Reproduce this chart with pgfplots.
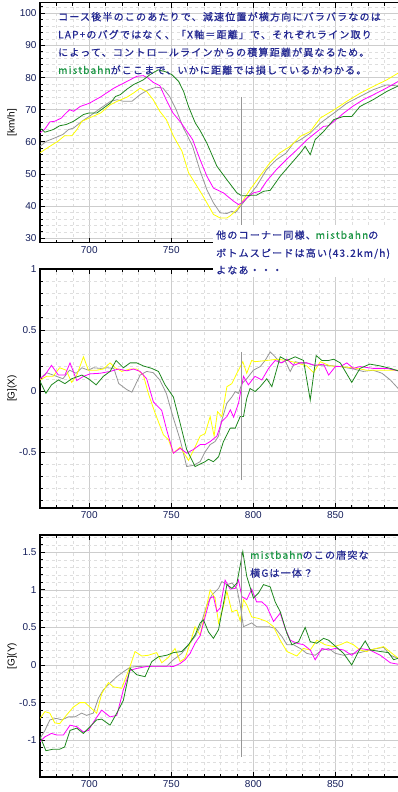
\documentclass[border=0pt]{standalone}
\usepackage{pgfplots}
\pgfplotsset{compat=1.18}
\usepackage{fontspec}
\setmainfont{Liberation Sans}
\newfontfamily\jp[LetterSpace=12, FakeBold=0.8]{Noto Sans CJK JP}
\definecolor{navy}{RGB}{35,40,145}
\definecolor{mbgreen}{RGB}{30,150,70}
\definecolor{ticknavy}{RGB}{20,30,90}
\definecolor{sgray}{RGB}{150,150,150}
\definecolor{sgreen}{RGB}{30,135,30}
\definecolor{syellow}{RGB}{255,255,0}
\definecolor{smag}{RGB}{255,0,255}
\definecolor{gridmaj}{RGB}{205,205,205}
\definecolor{gridmin}{RGB}{222,222,222}
\newcommand\mbg[1]{\textcolor{mbgreen}{#1}}
\newcommand\jpfont{\jp\fontsize{10bp}{12bp}\selectfont}
\newcommand\txtnode[2]{%
  \node[anchor=base west, inner sep=0, text=navy, font=\jpfont] at (#1) {#2};
}
\pgfplotsset{
  panel/.style={
    scale only axis, width=361bp,
    xmin=670, xmax=890,
    xtick={700,750,800,850}, xticklabels={700,750,800,850},
    minor xtick={680,690,710,720,730,740,760,770,780,790,810,820,830,840,860,870,880},
    grid=both,
    major grid style={gridmaj, line width=0.6bp},
    minor grid style={gridmin, dashed, line width=0.5bp},
    axis line style={black, line width=1.1bp},
    ytick pos=left,
    major tick length=5bp, minor tick length=3bp,
    tick style={black, line width=0.8bp},
    ticklabel style={font=\fontsize{10bp}{12bp}\selectfont, text=ticknavy},
    every axis y label/.style={at={([xshift=-28bp]axis description cs:0,0.5)}, rotate=90, anchor=center, font=\fontsize{10bp}{12bp}\selectfont},
  },
  ser/.style={line width=0.8bp, #1},
}
\begin{document}
\begin{tikzpicture}
\useasboundingbox (0,0) rectangle (398bp,-792bp);
% ---------------- top panel ----------------
\begin{axis}[panel, at={(40bp,-2.7bp)}, anchor=north west, height=240bp,
  xticklabels={700,750,{},{}},
  ymin=28.6, ymax=103.3,
  ytick={30,40,50,60,70,80,90,100}, yticklabels={30,40,50,60,70,80,90,100},
  minor ytick={32,34,36,38,42,44,46,48,52,54,56,58,62,64,66,68,72,74,76,78,82,84,86,88,92,94,96,98,102},
  ylabel={[km/h]}]
\addplot[ser=sgray] coordinates {(670,58.6)(674,60.2)(679,61.2)(684,62.3)(687.3,63.8)(690.5,64.3)(695.5,66.4)(700,67.9)(707,70.5)(713,72.6)(717,73.1)(721,72.6)(726,72.6)(731,74.7)(736,76.2)(741,77)(745,76.7)(749,74.1)(753,70)(757,64.8)(763,58.6)(767.6,50.9)(771.7,45.1)(775.7,41)(779.8,37.9)(783.9,37.7)(787,38.4)(789,37.9)(793,40.5)(797,43)(802,46.2)(808,51.3)(814,54.4)(820,56.5)(824.5,59.6)(828.6,60.6)(834.7,62.7)(840.8,65.8)(849,68.9)(857,72)(865,74.1)(873,76.2)(881,77.7)(888.3,77.4)};
\addplot[ser=syellow] coordinates {(670,56.6)(676,58.6)(681,60.2)(685,61.9)(689.4,61.9)(692.5,63.8)(695.5,66.4)(700,67.4)(707,69)(713,71.6)(717,72.6)(723,73.9)(727,75.2)(731,76.7)(735,75.7)(739,73.1)(743,69.5)(747,66.9)(751.4,61.7)(756.5,57.1)(760.5,50.4)(767.6,44.6)(770.6,42)(775.7,37.4)(779.8,36.3)(783.9,36.3)(786,37)(790,38.9)(794,42)(798,45.1)(804,49.3)(810,53.4)(816,56.5)(822.5,58.6)(828.6,61.7)(834.7,63.2)(840.8,67.4)(849,69.9)(857,72.6)(865,75.1)(873,77.2)(881.4,79.3)(888.3,81.4)};
\addplot[ser=smag] coordinates {(670,62.8)(673,64)(676,66.2)(679,66.4)(683,67.4)(685,68.5)(688,70)(690.5,69.5)(694.5,71)(700,72)(707,74)(715,76.7)(723,78.8)(729,80.4)(733,80.6)(736,79.8)(739,78.5)(743,77.5)(747,73)(751,69)(756,65.9)(763,60.7)(767.6,54.4)(771.7,49.3)(775.7,45.6)(781.8,44.1)(788,41.5)(791,40.5)(793,41)(796,42.5)(800,44.1)(804,44.6)(808,47.7)(814,51.3)(820,54.4)(826.5,57.5)(832.6,60.6)(837.7,62.7)(842.8,64.8)(845.9,65)(849,66.3)(855,68.9)(861,71.2)(867,73.1)(873,74.6)(881,76.7)(888.3,78.8)};
\addplot[ser=sgreen] coordinates {(670,64.3)(673,63)(678,63.8)(682,65)(686,65.4)(690.5,66.4)(696.5,68.5)(700,69)(704.7,69)(708.7,70.5)(713,72.1)(716,74.1)(719,74.7)(723,76.4)(727,77.8)(733,79.3)(737,80.9)(742,82.4)(746,81.9)(750.4,80.9)(754.5,78.8)(757.5,75.7)(760.5,71)(764.6,65.9)(767.6,63.5)(771.7,59.6)(777.8,52.4)(783.9,48.2)(790,44.1)(793,43.2)(796,43.2)(799,43.4)(802,43.4)(806.2,44.6)(810.3,44.9)(816.4,49.3)(822.5,52.9)(828.6,56.5)(831.6,58.6)(834.7,56)(837.7,60.7)(842.8,63.2)(849,66.9)(855,67.9)(860,67.9)(865,71)(873,73.1)(881.4,75.7)(888.3,77.4)};
\addplot[sgray, line width=0.7bp] coordinates {(793,74)(793,28.6)};
\end{axis}
% ---------------- middle panel ----------------
\begin{axis}[panel, at={(40bp,-269bp)}, anchor=north west, height=239bp,
  ymin=-0.96, ymax=1.0,
  ytick={-0.5,0,0.5,1}, yticklabels={-0.5,0,0.5,1},
  minor ytick={-0.9,-0.8,-0.7,-0.6,-0.4,-0.3,-0.2,-0.1,0.1,0.2,0.3,0.4,0.6,0.7,0.8,0.9},
  ylabel={[G](X)}]
\addplot[ser=sgray] coordinates {(670,0.10)(674,0.15)(678,0.13)(684,0.10)(688,0.17)(692,0.145)(695.5,0.19)(699.5,0.17)(702.5,0.19)(707,0.185)(711,0.19)(715,0.185)(718,0.06)(723,0.01)(726,-0.01)(731,0.13)(735,0.16)(739,0.15)(743,0.09)(747,-0.02)(751,-0.21)(755.4,-0.40)(759.4,-0.62)(763.5,-0.61)(767.6,-0.58)(770.6,-0.50)(773.7,-0.44)(776.7,-0.415)(778.8,-0.37)(780.8,-0.24)(783.9,-0.10)(786.9,-0.05)(789,-0.005)(791,-0.02)(793,0.06)(796,0.10)(800,0.17)(804.2,0.20)(807.2,0.25)(810.3,0.32)(813.3,0.28)(816.4,0.23)(819.4,0.245)(822.5,0.16)(825.5,0.24)(828.6,0.23)(832.6,0.23)(836.7,0.21)(844.8,0.21)(853,0.20)(861,0.18)(867,0.16)(873,0.17)(878.4,0.145)(883.5,0.09)(888.3,0.02)};
\addplot[ser=syellow] coordinates {(670,0.09)(674,0.12)(678,0.12)(682,0.19)(686,0.17)(689.3,0.07)(692.4,0.13)(696.5,0.28)(699.5,0.17)(704.6,0.17)(708.6,0.18)(712.7,0.23)(715.8,0.19)(719.8,0.16)(724.9,0.18)(729,0.18)(733,0.13)(736,-0.02)(740.1,-0.18)(745.2,-0.36)(748.3,-0.40)(751.3,-0.51)(755.4,-0.46)(760.5,-0.57)(764.5,-0.46)(767.6,-0.37)(770.6,-0.35)(773.7,-0.21)(776.1,-0.37)(778.2,-0.17)(780.8,-0.21)(783.9,0.035)(786.9,0.06)(790,0.145)(793.6,0.24)(796,0.145)(799,0.25)(801.1,0.24)(808.2,0.25)(814.4,0.26)(820.5,0.25)(826.5,0.23)(832.6,0.205)(836.7,0.15)(840.8,0.24)(846.9,0.205)(853,0.20)(861,0.19)(869,0.17)(877.4,0.17)(888.3,0.17)};
\addplot[ser=smag] coordinates {(670,0.10)(673,0.13)(677,0.21)(681.2,0.13)(685.2,0.13)(688.3,0.23)(692.4,0.085)(696.5,0.12)(700.5,0.14)(706.6,0.145)(712.7,0.16)(717.8,0.18)(722.9,0.165)(727,0.18)(731,0.16)(735,0.10)(739.1,-0.09)(744.2,-0.16)(747.2,-0.32)(751.3,-0.51)(755.4,-0.47)(759.4,-0.51)(763.5,-0.48)(767.6,-0.44)(770.6,-0.44)(773.7,-0.415)(777.8,-0.37)(780.8,-0.25)(783.9,-0.21)(786,-0.155)(788,-0.215)(791,-0.10)(794,0.12)(797,0.05)(801,0.12)(805.2,0.09)(809.3,0.185)(813.3,0.25)(817.4,0.23)(820.5,0.26)(824.5,0.21)(828.6,0.23)(832.6,0.23)(837.7,0.21)(842.8,0.22)(845.9,0.13)(850,0.20)(853,0.20)(857,0.23)(861,0.185)(865,0.20)(873,0.185)(881.4,0.185)(888.3,0.165)};
\addplot[ser=sgreen] coordinates {(670,0.08)(673.6,-0.02)(677,0.05)(681.2,0.09)(685.2,0.06)(689.3,0.10)(695.5,0.13)(699.5,0.10)(704.2,0.05)(708.6,0.12)(712.7,0.16)(716.4,0.25)(720.8,0.19)(724.9,0.23)(729,0.23)(733,0.205)(738.1,0.185)(742.2,0.16)(746.2,0.05)(751.3,-0.05)(755.4,-0.265)(759.4,-0.48)(764.5,-0.62)(767.6,-0.60)(770.6,-0.58)(772.7,-0.56)(775.7,-0.58)(778.8,-0.54)(781.8,-0.415)(785.9,-0.305)(789,-0.305)(792,-0.21)(794,-0.21)(796,-0.06)(798,0.02)(801.1,-0.005)(804.2,0.035)(808.2,0.10)(811.3,0.035)(816.4,0.28)(820.5,0.25)(825.5,0.28)(830.6,0.25)(834.7,-0.075)(838.3,0.29)(841.8,0.25)(845.9,0.25)(849,0.26)(853,0.23)(860,0.07)(865,0.185)(871,0.22)(877.4,0.205)(883.5,0.185)(888.3,0.165)};
\addplot[sgray, line width=0.7bp] coordinates {(793,0.32)(793,-0.73)};
\end{axis}
% ---------------- bottom panel ----------------
\begin{axis}[panel, at={(40bp,-535bp)}, anchor=north west, height=242bp,
  ymin=-1.49, ymax=1.73,
  ytick={-1,-0.5,0,0.5,1,1.5}, yticklabels={-1,-0.5,0,0.5,1,1.5},
  minor ytick={-1.4,-1.3,-1.2,-1.1,-0.9,-0.8,-0.7,-0.6,-0.4,-0.3,-0.2,-0.1,0.1,0.2,0.3,0.4,0.6,0.7,0.8,0.9,1.1,1.2,1.3,1.4,1.6,1.7},
  ylabel={[G](Y)}]
\addplot[ser=sgray] coordinates {(670,-0.98)(673,-0.87)(676,-0.73)(680,-0.71)(683.3,-0.73)(687.3,-0.69)(691.3,-0.69)(695.4,-0.64)(698.4,-0.67)(702.5,-0.64)(705.6,-0.44)(708.6,-0.33)(712.7,-0.24)(716.8,-0.155)(720.8,-0.09)(724.9,-0.03)(729,-0.02)(735,-0.015)(741.1,-0.015)(747.2,-0.015)(751.3,0.07)(756.4,0.155)(760.5,0.27)(764.5,0.38)(767.6,0.51)(771.7,0.80)(774.7,0.93)(778.8,1.02)(780.8,1.11)(783.9,1.07)(787,1.09)(790,1.02)(792,0.80)(794,0.51)(796,0.53)(799,0.56)(802,0.51)(806.2,0.51)(809.3,0.51)(813.3,0.49)(817.4,0.38)(820.5,0.27)(824.5,0.27)(828.6,0.22)(832.6,0.155)(837.7,0.13)(841.8,0.20)(845.9,0.22)(850,0.155)(855,0.13)(861,0.155)(865,0.165)(871,0.20)(875.3,0.22)(879.4,0.235)(883.5,0.13)(888.3,0.09)};
\addplot[ser=syellow] coordinates {(670,-0.71)(673,-0.62)(676,-0.64)(679,-0.77)(682,-0.78)(686,-0.67)(690.3,-0.56)(694.3,-0.50)(697.4,-0.50)(701.5,-0.58)(704.5,-0.64)(707.6,-0.38)(711.7,-0.235)(714.7,-0.29)(719.8,-0.31)(724.9,-0.02)(727.9,0.18)(732,0.12)(736,0.13)(741.1,0.165)(744.2,0.03)(748.2,0.10)(752.3,0.22)(755.4,0.045)(758.4,0.09)(761.5,0.29)(764.5,0.51)(767.6,0.40)(770.6,0.69)(773.7,1.0)(776.7,0.89)(778.8,0.56)(781.8,0.78)(783.9,0.98)(786.9,0.71)(790,0.73)(792,0.59)(794,0.87)(796,0.80)(799,0.64)(803.2,0.62)(808.2,0.58)(812.3,0.51)(816.4,0.33)(820.5,0.18)(826.5,0.12)(830.6,0.22)(834.7,0.20)(838.7,0.33)(843.8,0.27)(849,0.245)(853,0.27)(857,0.31)(861,0.27)(865,0.20)(869,0.18)(873,0.21)(879.4,0.245)(884.5,0.155)(888.3,0.09)};
\addplot[ser=smag] coordinates {(670,-1.02)(673,-0.955)(677,-0.91)(680,-0.93)(684.3,-0.93)(688.3,-0.80)(692.4,-0.82)(696.4,-0.89)(699.5,-0.87)(703.5,-0.73)(707.6,-0.60)(712.7,-0.69)(716.8,-0.67)(720.8,-0.33)(724.9,-0.07)(729,-0.045)(735,-0.02)(741.1,-0.015)(747.2,-0.015)(751.3,-0.02)(755.4,0.02)(758.4,0.07)(761.5,0.155)(764.5,0.29)(767.6,0.39)(770.6,0.64)(773.7,0.89)(775.7,0.91)(777.8,0.71)(779.8,0.76)(782.8,1.13)(785.9,1.01)(789,1.02)(791,1.13)(793,0.91)(796,0.87)(799,1.01)(802,0.84)(805.2,0.84)(808.2,0.78)(812.3,0.58)(816.4,0.69)(819.4,0.49)(822.5,0.33)(826.5,0.29)(830.6,0.27)(834.7,0.20)(837.7,0.07)(841.8,0.22)(845.9,0.20)(850,0.22)(855,0.20)(860,0.13)(865,0.22)(871,0.20)(877.4,0.13)(883.5,0.03)(888.3,0.01)};
\addplot[ser=sgreen] coordinates {(670,-0.95)(673.6,-1.14)(678,-1.12)(682,-1.12)(685,-1.09)(688.3,-0.87)(692.4,-0.84)(696.4,-0.91)(700.5,-0.82)(704.5,-0.73)(707.6,-0.72)(712.7,-0.80)(716.8,-0.64)(720.8,-0.47)(724.9,-0.045)(729,-0.13)(734,-0.155)(738.1,0.045)(742.2,0.11)(747.2,0.13)(751.3,0.165)(756.4,0.18)(760.5,0.27)(764.5,0.40)(767.6,0.56)(769.6,0.60)(772.7,0.44)(775.7,0.355)(778.8,0.47)(781.8,0.82)(783.9,1.07)(787,1.02)(790,1.09)(793.6,1.51)(796,1.18)(800.1,0.89)(803.2,0.96)(806.2,1.07)(810.3,1.04)(813.3,0.84)(816.4,0.71)(820.5,0.42)(823.5,0.27)(827.6,0.31)(831.6,0.50)(834.7,0.31)(838.7,0.29)(842.8,0.355)(845.9,0.33)(849,0.27)(855,0.155)(860,0.0)(864.1,0.18)(868.2,0.32)(871.3,0.20)(877.4,0.18)(882.4,0.165)(885.5,0.07)(888.3,0.09)};
\addplot[sgray, line width=0.7bp] coordinates {(793,1.51)(793,-1.22)};
\end{axis}
% ---------------- annotations ----------------
\txtnode{58bp,-20.5bp}{コース後半のこのあたりで、減速位置が横方向にバラバラなのは}
\txtnode{58bp,-38.3bp}{LAP+のバグではなく、「X軸＝距離」で、それぞれライン取り}
\txtnode{58bp,-56.1bp}{によって、コントロールラインからの積算距離が異なるため。}
\txtnode{58bp,-73.9bp}{\mbg{mistbahn}がここまで、いかに距離では損しているかわかる。}
\fill[white] (213bp,-225bp) rectangle (400bp,-277bp);
\txtnode{216bp,-238.8bp}{他のコーナー同様、\mbg{mistbahn}の}
\txtnode{216bp,-256.8bp}{ボトムスピードは高い(43.2km/h)}
\txtnode{216bp,-273.8bp}{よなあ・・・}
\txtnode{250bp,-558.8bp}{\mbg{mistbahn}のこの唐突な}
\txtnode{250bp,-576.8bp}{横Gは一体？}
\end{tikzpicture}
\end{document}
